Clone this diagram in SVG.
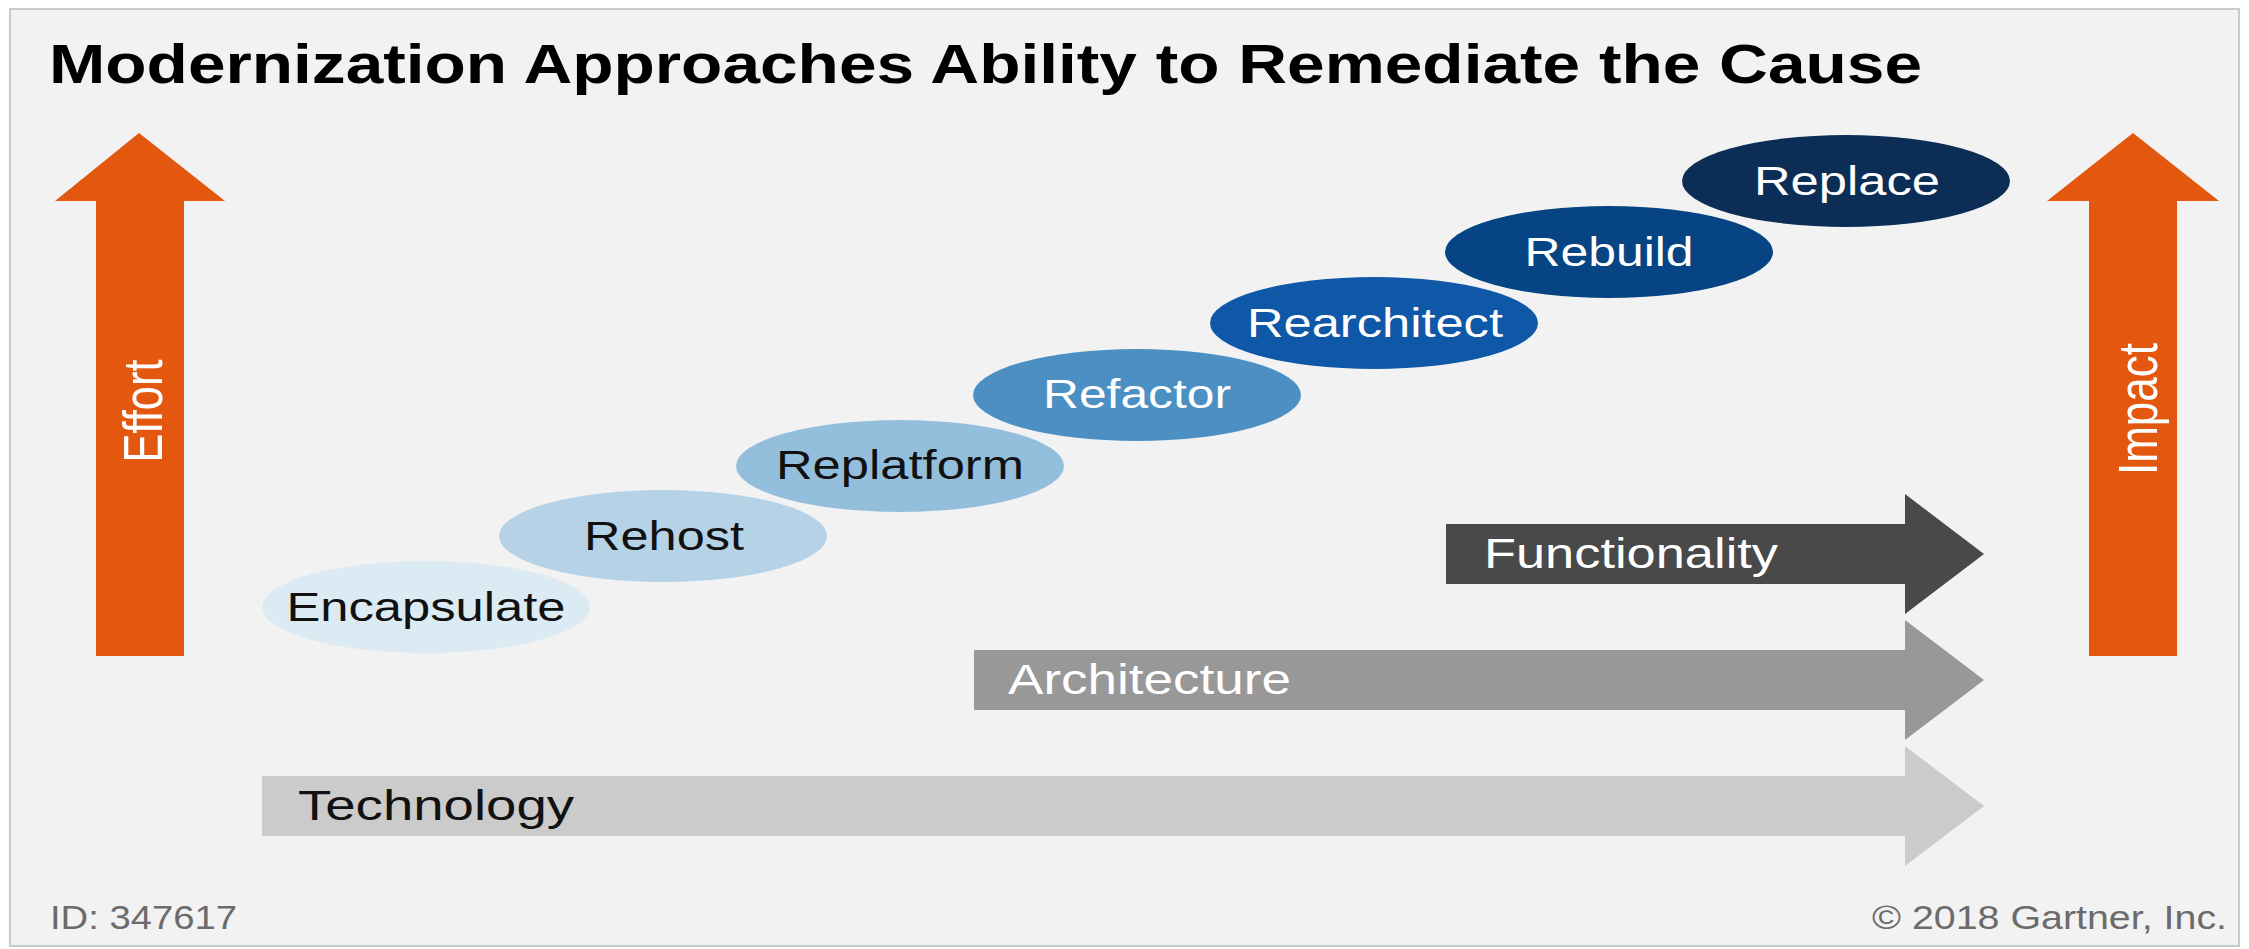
<svg xmlns="http://www.w3.org/2000/svg" width="2249" height="949" viewBox="0 0 2249 949">
  <style>
    .t { font-family: "Liberation Sans", Arial, sans-serif; }
    .title { font-weight: bold; font-size: 56px; fill: #000; }
    .lbl { font-size: 41px; text-anchor: middle; }
    .dark { fill: #111; }
    .light { fill: #fff; }
    .bar { font-size: 42px; }
    .foot { font-size: 34px; fill: #6b6b6b; }
    .orange { fill: #E4570F; }
    .vt { font-size: 56px; fill: #fff; text-anchor: middle; }
  </style>
  <rect x="0" y="0" width="2249" height="949" fill="#ffffff"/>
  <rect id="frame" x="10" y="9" width="2229" height="937" fill="#F2F2F2" stroke="#C9C9C9" stroke-width="2"/>

  <text id="title" class="t title" x="49" y="83" textLength="1873" lengthAdjust="spacingAndGlyphs">Modernization Approaches Ability to Remediate the Cause</text>

  <g id="effort-arrow">
    <polygon class="orange" points="139,133 225,201 184,201 184,656 96,656 96,201 55,201"/>
    <text class="t vt" x="0" y="0" transform="translate(162,411) rotate(-90)" textLength="103" lengthAdjust="spacingAndGlyphs">Effort</text>
  </g>

  <g id="impact-arrow">
    <polygon class="orange" points="2133,133 2219,201 2177,201 2177,656 2089,656 2089,201 2047,201"/>
    <text class="t vt" x="0" y="0" transform="translate(2157,409) rotate(-90)" textLength="132" lengthAdjust="spacingAndGlyphs">Impact</text>
  </g>

  <g id="connectors">
    <g id="technology-arrow">
      <polygon fill="#CBCBCB" points="262,776 1905,776 1905,746 1984,806 1905,866 1905,836 262,836"/>
      <text class="t bar dark" x="298" y="820" textLength="276" lengthAdjust="spacingAndGlyphs">Technology</text>
    </g>
    <g id="architecture-arrow">
      <polygon fill="#989898" points="974,650 1905,650 1905,620 1984,680 1905,740 1905,710 974,710"/>
      <text class="t bar light" x="1008" y="694" textLength="283" lengthAdjust="spacingAndGlyphs">Architecture</text>
    </g>
    <g id="functionality-arrow">
      <polygon fill="#494949" points="1446,524 1905,524 1905,494 1984,554 1905,614 1905,584 1446,584"/>
      <text class="t bar light" x="1484" y="568" textLength="294" lengthAdjust="spacingAndGlyphs">Functionality</text>
    </g>
  </g>

  <g id="encapsulate">
    <ellipse cx="426" cy="607" rx="164" ry="46" fill="#DCEAF4"/>
    <text class="t lbl dark" x="426" y="621" textLength="279" lengthAdjust="spacingAndGlyphs">Encapsulate</text>
  </g>
  <g id="rehost">
    <ellipse cx="663" cy="536" rx="164" ry="46" fill="#B5D2E6"/>
    <text class="t lbl dark" x="664" y="550" textLength="160" lengthAdjust="spacingAndGlyphs">Rehost</text>
  </g>
  <g id="replatform">
    <ellipse cx="900" cy="466" rx="164" ry="46" fill="#94BFDC"/>
    <text class="t lbl dark" x="900" y="479" textLength="248" lengthAdjust="spacingAndGlyphs">Replatform</text>
  </g>
  <g id="refactor">
    <ellipse cx="1137" cy="395" rx="164" ry="46" fill="#4C90C3"/>
    <text class="t lbl light" x="1137" y="408" textLength="188" lengthAdjust="spacingAndGlyphs">Refactor</text>
  </g>
  <g id="rearchitect">
    <ellipse cx="1374" cy="323" rx="164" ry="46" fill="#0E58A7"/>
    <text class="t lbl light" x="1375" y="337" textLength="256" lengthAdjust="spacingAndGlyphs">Rearchitect</text>
  </g>
  <g id="rebuild">
    <ellipse cx="1609" cy="252" rx="164" ry="46" fill="#064483"/>
    <text class="t lbl light" x="1609" y="266" textLength="169" lengthAdjust="spacingAndGlyphs">Rebuild</text>
  </g>
  <g id="replace">
    <ellipse cx="1846" cy="181" rx="164" ry="46" fill="#0B2D56"/>
    <text class="t lbl light" x="1847" y="195" textLength="186" lengthAdjust="spacingAndGlyphs">Replace</text>
  </g>

  <text id="footer-id" class="t foot" x="50" y="929" textLength="187" lengthAdjust="spacingAndGlyphs">ID: 347617</text>
  <text id="footer-copy" class="t foot" x="2227" y="929" text-anchor="end" textLength="355" lengthAdjust="spacingAndGlyphs">© 2018 Gartner, Inc.</text>
</svg>
